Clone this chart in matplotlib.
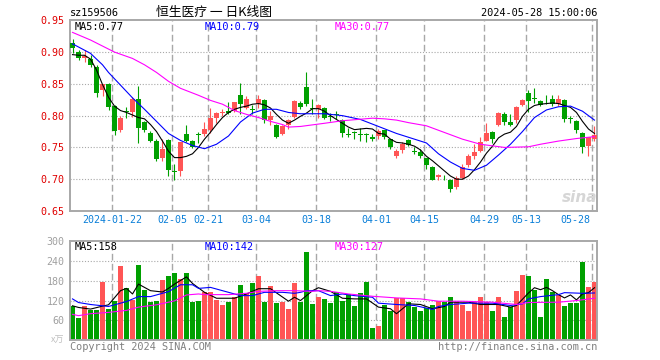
import matplotlib
matplotlib.use("Agg")
import matplotlib.pyplot as plt
import numpy as np

# daily candles 2024-01-11 .. 2024-05-28 (88 sessions)
opens = [0.914, 0.900, 0.891, 0.889, 0.876, 0.840, 0.850, 0.815, 0.777, 0.808,
         0.806, 0.826, 0.790, 0.773, 0.760, 0.734, 0.762, 0.713, 0.713, 0.771,
         0.760, 0.771, 0.771, 0.777, 0.797, 0.804, 0.807, 0.807, 0.832, 0.812,
         0.811, 0.818, 0.824, 0.793, 0.786, 0.771, 0.786, 0.798, 0.820, 0.845,
         0.812, 0.810, 0.812, 0.799, 0.803, 0.793, 0.771, 0.774, 0.771, 0.771,
         0.766, 0.768, 0.777, 0.763, 0.736, 0.746, 0.762, 0.745, 0.743, 0.733,
         0.719, 0.704, 0.704, 0.698, 0.688, 0.702, 0.722, 0.736, 0.745, 0.760,
         0.774, 0.786, 0.803, 0.790, 0.793, 0.816, 0.835, 0.828, 0.823, 0.822,
         0.826, 0.819, 0.824, 0.796, 0.792, 0.772, 0.752, 0.764]
highs = [0.921, 0.904, 0.903, 0.896, 0.879, 0.850, 0.852, 0.816, 0.799, 0.813,
         0.830, 0.846, 0.792, 0.776, 0.763, 0.763, 0.763, 0.724, 0.758, 0.785,
         0.762, 0.774, 0.790, 0.812, 0.806, 0.810, 0.821, 0.822, 0.852, 0.831,
         0.816, 0.833, 0.826, 0.807, 0.787, 0.786, 0.795, 0.824, 0.823, 0.868,
         0.826, 0.818, 0.814, 0.804, 0.807, 0.794, 0.781, 0.776, 0.780, 0.773,
         0.771, 0.779, 0.777, 0.764, 0.747, 0.758, 0.764, 0.750, 0.748, 0.734,
         0.721, 0.708, 0.707, 0.700, 0.705, 0.724, 0.740, 0.755, 0.766, 0.789,
         0.776, 0.805, 0.805, 0.803, 0.815, 0.826, 0.840, 0.844, 0.824, 0.833,
         0.833, 0.833, 0.826, 0.800, 0.793, 0.774, 0.767, 0.783]
lows = [0.899, 0.888, 0.885, 0.877, 0.830, 0.831, 0.809, 0.770, 0.775, 0.796,
        0.798, 0.757, 0.775, 0.758, 0.728, 0.729, 0.705, 0.699, 0.705, 0.758,
        0.749, 0.757, 0.768, 0.773, 0.789, 0.799, 0.803, 0.806, 0.802, 0.810,
        0.802, 0.812, 0.789, 0.786, 0.765, 0.769, 0.779, 0.797, 0.810, 0.815,
        0.802, 0.797, 0.794, 0.792, 0.794, 0.766, 0.766, 0.764, 0.760, 0.758,
        0.760, 0.764, 0.763, 0.748, 0.733, 0.742, 0.752, 0.739, 0.733, 0.716,
        0.698, 0.699, 0.698, 0.680, 0.684, 0.700, 0.719, 0.732, 0.743, 0.760,
        0.757, 0.784, 0.786, 0.784, 0.789, 0.815, 0.805, 0.820, 0.815, 0.818,
        0.815, 0.815, 0.790, 0.789, 0.773, 0.741, 0.737, 0.760]
closes = [0.906, 0.891, 0.894, 0.879, 0.835, 0.850, 0.813, 0.776, 0.796, 0.805,
          0.826, 0.780, 0.777, 0.760, 0.732, 0.748, 0.715, 0.711, 0.758, 0.760,
          0.750, 0.769, 0.779, 0.797, 0.804, 0.805, 0.804, 0.821, 0.818, 0.826,
          0.809, 0.826, 0.793, 0.799, 0.767, 0.784, 0.793, 0.823, 0.813, 0.819,
          0.810, 0.816, 0.796, 0.798, 0.801, 0.772, 0.769, 0.772, 0.769, 0.770,
          0.764, 0.776, 0.766, 0.751, 0.744, 0.755, 0.754, 0.743, 0.736, 0.722,
          0.699, 0.706, 0.703, 0.684, 0.702, 0.720, 0.736, 0.743, 0.758, 0.773,
          0.764, 0.804, 0.790, 0.785, 0.814, 0.824, 0.823, 0.826, 0.816, 0.821,
          0.818, 0.826, 0.795, 0.795, 0.777, 0.750, 0.767, 0.769]
volumes = [104, 66, 104, 92, 92, 175, 95, 118, 224, 157,
           123, 227, 151, 115, 118, 182, 194, 203, 184, 203,
           115, 120, 145, 147, 123, 105, 117, 130, 166, 142,
           174, 196, 115, 163, 112, 117, 93, 172, 115, 269,
           108, 132, 126, 112, 145, 118, 140, 102, 142, 175,
           35, 44, 105, 87, 127, 127, 117, 100, 87, 97,
           105, 120, 115, 132, 117, 105, 87, 117, 132, 117,
           87, 130, 69, 100, 150, 199, 196, 152, 69, 186,
           145, 138, 102, 112, 112, 236, 160, 176]

date_idx = [7, 17, 23, 31, 41, 51, 59, 69, 76, 87]
date_labels = ["2024-01-22", "02-05", "02-21", "03-04", "03-18",
               "04-01", "04-15", "04-29", "05-13", "05-28"]

# moving averages
ma5 = [0.896, 0.895, 0.895, 0.889, 0.872, 0.849, 0.829, 0.815, 0.808, 0.805,
       0.801, 0.797, 0.795, 0.786, 0.775, 0.760, 0.744, 0.734, 0.734, 0.736,
       0.740, 0.750, 0.763, 0.774, 0.786, 0.797, 0.805, 0.810, 0.813, 0.815,
       0.818, 0.819, 0.817, 0.812, 0.802, 0.793, 0.788, 0.793, 0.799, 0.804,
       0.811, 0.811, 0.807, 0.800, 0.794, 0.788, 0.782, 0.778, 0.779, 0.780,
       0.779, 0.772, 0.771, 0.763, 0.758, 0.757, 0.755, 0.752, 0.746, 0.736,
       0.729, 0.721, 0.713, 0.705, 0.700, 0.700, 0.705, 0.715, 0.727, 0.741,
       0.752, 0.765, 0.771, 0.774, 0.783, 0.799, 0.810, 0.816, 0.818, 0.819,
       0.820, 0.819, 0.816, 0.813, 0.805, 0.791, 0.779, 0.772]
ma10_idx = [0, 3, 5, 6, 8, 10, 12, 14, 16, 18, 20, 22, 24, 26, 28, 30, 32, 34,
            36, 38, 42, 45, 48, 51, 54, 57, 59, 61, 63, 65, 67, 69, 71, 73, 75,
            77, 79, 81, 83, 85, 87]
ma10 = [0.913, 0.898, 0.880, 0.868, 0.848, 0.828, 0.810, 0.791, 0.772, 0.761,
        0.753, 0.748, 0.755, 0.768, 0.790, 0.804, 0.810, 0.810, 0.805, 0.803,
        0.803, 0.800, 0.794, 0.783, 0.772, 0.763, 0.757, 0.740, 0.727, 0.717,
        0.714, 0.722, 0.738, 0.755, 0.775, 0.797, 0.809, 0.814, 0.815, 0.807,
        0.793]
ma30_idx = [0, 3, 7, 10, 12, 14, 16, 18, 21, 23, 25, 27, 29, 31, 33, 35, 36, 38,
            42, 45, 50, 52, 54, 56, 59, 61, 65, 68, 72, 76, 78, 81, 84, 87]
ma30 = [0.931, 0.919, 0.900, 0.890, 0.880, 0.868, 0.854, 0.843, 0.832, 0.824,
        0.818, 0.808, 0.802, 0.797, 0.791, 0.786, 0.782, 0.783, 0.788, 0.792,
        0.796, 0.795, 0.793, 0.789, 0.784, 0.777, 0.763, 0.755, 0.750, 0.751,
        0.755, 0.760, 0.764, 0.767]

vma5_idx = [0, 1, 3, 5, 6, 8, 9, 10, 11, 12, 13, 15, 16, 17, 19, 20, 22, 24, 27,
            29, 31, 33, 36, 37, 38, 40, 41, 43, 45, 47, 49, 51, 53, 54, 56, 58,
            60, 62, 63, 66, 68, 71, 73, 74, 76, 77, 78, 79, 80, 81, 82, 83, 84,
            85, 86, 87]
vma5 = [104, 99, 94, 103, 107, 150, 157, 140, 170, 160, 150, 146, 157, 170, 192,
        172, 145, 127, 127, 140, 156, 156, 118, 130, 120, 150, 159, 148, 127, 125,
        125, 100, 95, 80, 110, 108, 95, 102, 115, 115, 108, 108, 100, 105, 143,
        159, 153, 160, 150, 138, 128, 137, 122, 140, 144, 159]
vma10_idx = [0, 1, 3, 6, 7, 9, 11, 13, 16, 18, 20, 21, 23, 26, 28, 30, 32, 35,
             37, 38, 39, 41, 43, 45, 47, 50, 51, 54, 57, 60, 61, 63, 66, 70, 73,
             75, 76, 78, 81, 82, 85, 87]
vma10 = [125, 114, 108, 102, 107, 117, 132, 132, 147, 168, 168, 157, 160, 145,
         135, 135, 145, 145, 142, 145, 150, 150, 135, 140, 135, 130, 112, 108,
         105, 93, 102, 108, 112, 112, 105, 110, 125, 132, 138, 144, 142, 143]
vma30_idx = [0, 1, 3, 6, 9, 11, 14, 17, 19, 21, 22, 26, 29, 31, 34, 37, 40, 41,
             43, 46, 50, 54, 58, 61, 65, 70, 74, 76, 81, 84, 87]
vma30 = [78, 74, 80, 84, 90, 100, 107, 119, 137, 140, 138, 138, 142, 148, 150,
         150, 148, 150, 148, 140, 133, 128, 125, 118, 118, 115, 108, 114, 115,
         120, 127]

RED = "#ff5555"
GREEN = "#00a000"
GRID = "#a8a8a8"
MONO = "DejaVu Sans Mono"
CJK = ["Noto Sans CJK SC", "DejaVu Sans"]

W, H = 660, 360
fig = plt.figure(figsize=(6.6, 3.6), dpi=100)


def fx(px):
    return px / W


def fy(py):
    return 1 - py / H


def panel(top, bottom):
    a = fig.add_axes([fx(70), fy(bottom), fx(597) - fx(70), fy(top) - fy(bottom)])
    for s in a.spines.values():
        s.set_color(GRID)
        s.set_linewidth(1.4)
    a.set_xticks([])
    a.tick_params(length=0)
    a.set_xlim(-0.417, 87.42)
    for d in date_idx:
        a.axvline(d - 0.417, color=GRID, lw=1.0, ls=(0, (4.8, 2.4)), zorder=0)
    return a


n = len(closes)
x = np.arange(n)
o = np.array(opens)
c = np.array(closes)
colors = [RED if c[i] >= o[i] else GREEN for i in range(n)]

# price panel
ax = panel(20.3, 211)
ax.set_ylim(0.65, 0.95)
for lvl in [0.70, 0.75, 0.80, 0.85, 0.90]:
    ax.axhline(lvl, color=GRID, lw=0.8, ls=(0, (1, 1.6)), zorder=0)
ax.set_yticks([0.65, 0.70, 0.75, 0.80, 0.85, 0.90, 0.95])
ax.set_yticklabels(["%.2f" % v for v in [0.65, 0.70, 0.75, 0.80, 0.85, 0.90, 0.95]],
                   color="#e00000", fontsize=7.2, family=MONO)
ax.tick_params(axis="y", pad=4)

ax.vlines(x, lows, highs, colors=colors, lw=0.8, zorder=2)
body = np.maximum(np.abs(c - o), 0.0012)
ax.bar(x, body, bottom=np.minimum(o, c), width=0.83, color=colors, lw=0, zorder=3)

ax.plot(x, ma5, color="black", lw=0.8, zorder=4)
ax.plot(ma10_idx, ma10, color="#0000ff", lw=0.8, zorder=4)
ax.plot(ma30_idx, ma30, color="#ff00ff", lw=0.8, zorder=4)

for d, lab in zip(date_idx, date_labels):
    if d == date_idx[-1]:
        fig.text(fx(590), fy(220), lab, ha="right", va="center", color="#0a7fd8",
                 fontsize=7.2, family=MONO)
    else:
        fig.text(fx(70 + 6 * d), fy(220), lab, ha="center", va="center",
                 color="#0a7fd8", fontsize=7.2, family=MONO)

# faint sina watermark, bottom right of the price panel
fig.text(fx(580), fy(197), "sina", fontsize=11, color="#d6d6d6", fontweight="bold",
         style="italic", ha="center", va="center", zorder=1)

# volume panel
vax = panel(240.7, 340)
vax.set_ylim(0, 302)
for lvl in [60, 120, 180, 240]:
    vax.axhline(lvl, color=GRID, lw=0.8, ls=(0, (1, 1.6)), zorder=0)
vax.set_yticks([60, 120, 180, 240, 300])
vax.set_yticklabels(["60", "120", "180", "240", "300"], color="#a0a0a0",
                    fontsize=7.2, family=MONO)
vax.tick_params(axis="y", pad=4)
vax.bar(x, volumes, width=0.83, color=colors, lw=0, zorder=2)
vax.plot(vma5_idx, vma5, color="black", lw=0.8, zorder=4)
vax.plot(vma10_idx, vma10, color="#0000ff", lw=0.8, zorder=4)
vax.plot(vma30_idx, vma30, color="#ff00ff", lw=0.8, zorder=4)

# header and labels
fig.text(fx(70), fy(12.5), "sz159506", ha="left", va="center", fontsize=7.4, family=MONO)
fig.text(fx(214), fy(12.5), "恒生医疗 一 日K线图", ha="center", va="center",
         fontsize=9.2, family=CJK)
fig.text(fx(597), fy(12.5), "2024-05-28 15:00:06", ha="right", va="center",
         fontsize=7.4, family=MONO)

fig.text(fx(75), fy(26.5), "MA5:0.77", ha="left", va="center", fontsize=7.4, family=MONO)
fig.text(fx(205), fy(26.5), "MA10:0.79", ha="left", va="center", fontsize=7.4,
         family=MONO, color="#0000ff")
fig.text(fx(334.5), fy(26.5), "MA30:0.77", ha="left", va="center", fontsize=7.4,
         family=MONO, color="#ff00ff")

fig.text(fx(75), fy(246.5), "MA5:158", ha="left", va="center", fontsize=7.4, family=MONO)
fig.text(fx(205), fy(246.5), "MA10:142", ha="left", va="center", fontsize=7.4,
         family=MONO, color="#0000ff")
fig.text(fx(334.5), fy(246.5), "MA30:127", ha="left", va="center", fontsize=7.4,
         family=MONO, color="#ff00ff")

fig.text(fx(64), fy(340), "x万", ha="right", va="center", fontsize=6.5,
         family=CJK, color="#c0c0c0")
fig.text(fx(70), fy(347), "Copyright 2024 SINA.COM", ha="left", va="center",
         fontsize=7.4, family=MONO, color="#808080")
fig.text(fx(597), fy(347), "http://finance.sina.com.cn", ha="right", va="center",
         fontsize=7.4, family=MONO, color="#808080")

fig.savefig("out.png", dpi=100)
